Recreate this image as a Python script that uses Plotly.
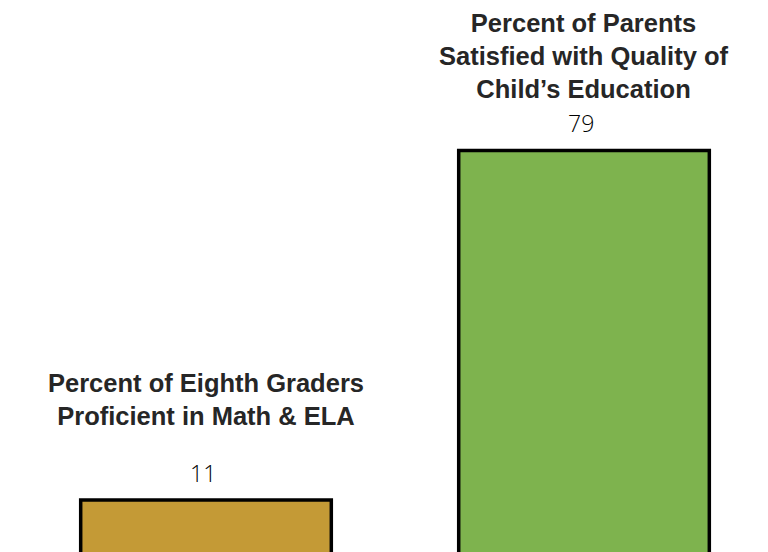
import plotly.graph_objects as go

categories = ["Percent of Eighth Graders<br>Proficient in Math & ELA",
              "Percent of Parents<br>Satisfied with Quality of<br>Child’s Education"]
values = [11, 79]
colors = ["#C49A36", "#7EB34E"]

fig = go.Figure()
fig.add_trace(go.Bar(
    x=categories, y=values,
    marker=dict(color=colors, line=dict(color="#000000", width=3.5)),
    width=0.663,
    hoverinfo="skip",
))

title_shift = [101, 94]
annotations = []
for i, (cat, v) in enumerate(zip(categories, values)):
    annotations.append(dict(
        x=cat, y=v, xref="x", yref="y", text=str(v), showarrow=False,
        yanchor="middle", yshift=27, xshift=-3,
        font=dict(family="Open Sans", size=23, color="#000000", weight=300),
    ))
    annotations.append(dict(
        x=cat, y=v, xref="x", yref="y", text="<b>" + cat + "</b>", showarrow=False,
        yanchor="middle", yshift=title_shift[i], align="center",
        font=dict(family="Arial, 'Liberation Sans', sans-serif", size=25.5, color="#262626"),
    ))

fig.update_layout(
    width=768, height=552,
    margin=dict(l=0, r=0, t=0, b=0),
    paper_bgcolor="white", plot_bgcolor="white",
    showlegend=False,
    annotations=annotations,
    xaxis=dict(range=[-0.5238, 1.5079], showticklabels=False, showgrid=False,
               zeroline=False, showline=False, fixedrange=True),
    yaxis=dict(range=[-0.67, 106.72], showticklabels=False, showgrid=False,
               zeroline=False, showline=False, fixedrange=True),
)

fig.write_html("out.html", config={"displayModeBar": False})
